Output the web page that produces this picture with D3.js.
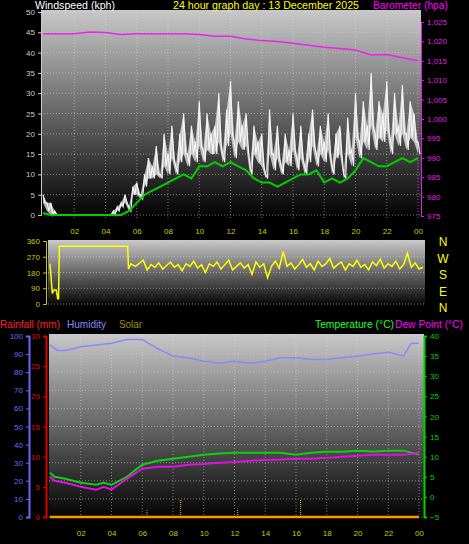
<!DOCTYPE html>
<html><head><meta charset="utf-8">
<script src="https://cdn.jsdelivr.net/npm/d3@7"></script>
<style>body{margin:0;background:#000}svg{display:block;font-family:"Liberation Sans",sans-serif}</style>
</head><body><div id="app"></div>
<script>
// wind gust every 15 min, average every 30 min (kph)
const gust = [5,3,3,1, 0,0,0,0, 0,0,0,0, 0,0,0,0, 0,0,1,2, 3,5,2,7, 8,5,10,14, 12,17,10,20, 15,22,12,20, 25,15,22,18, 28,16,25,20,
  22,30,15,26, 33,18,28,22, 25,12,22,18, 20,10,26,15, 22,12,20,16, 25,14,22,12, 20,26,15,22, 18,25,12,20, 22,10,24,16,
  30,18,28,22, 35,20,28,25, 33,18,30,22, 32,20,28,25, 18];
const gustLow = [3,1,0,0, 0,0,0,0, 0,0,0,0, 0,0,0,0, 0,0,0,1, 2,3,1,5, 5,4,7,9, 9,10,9,12, 10,14,10,13, 15,12,15,13, 17,13,16,15,
  15,18,13,17, 20,14,18,16, 17,10,15,13, 12,9,15,11, 14,10,13,12, 16,11,14,10, 13,17,12,15, 13,16,10,14, 15,9,15,12,
  19,14,18,16, 22,16,19,18, 21,15,20,17, 20,16,19,18, 15];
const avgWind = [0.5,0,0,0,0,0,0,0,0,0,0,1,3,5,6,7,8,9,10,9,12,12,13,12,13,12,11,9,8,8,7,8,9,10,10,11,8,9,8,9,11,14,13,12,12,13,14,13,14];
const baro = [1022,1022,1022,1022.4,1022.3,1021.8,1022,1022,1022,1022,1021.8,1021.3,1021.3,1020.6,1020.2,1020,1019.5,1019,1018.5,1018.2,1017.8,1016.5,1016.6,1015.8,1015];
const dirHours = [0,0.15,0.25,0.4,0.5,0.55,0.6,5.0,5.05,5.2,5.5,6,6.25,6.5,6.75,7,7.25,7.5,7.75,8,8.25,8.5,8.75,9,9.25,9.5,9.75,10,10.25,10.5,10.75,11,11.25,11.5,11.75,12,12.25,12.5,12.75,13,13.25,13.5,13.75,14,14.25,14.5,14.75,15,15.25,15.5,15.75,16,16.25,16.5,16.75,17,17.25,17.5,17.75,18,18.25,18.5,18.75,19,19.25,19.5,19.75,20,20.25,20.5,20.75,21,21.25,21.5,21.75,22,22.25,22.5,22.75,23,23.25,23.5,23.75,24];
const dirVals  = [230,60,80,80,30,30,330,330,200,230,215,250,195,225,210,235,200,220,240,210,225,190,230,215,245,205,225,180,230,215,240,200,225,250,195,215,235,205,225,170,240,210,230,150,215,245,205,300,215,235,200,225,255,210,230,195,245,215,230,260,205,225,240,195,230,215,250,210,225,195,240,220,255,205,230,215,245,200,225,290,210,235,200,210];
const hrHours = [0,0.5,1,2,3,4,5,6,7,8,9,10,11,12,13,14,15,16,17,18,19,20,21,22,23,23.5,24];
const humidity = [95,92,92,94,95,96,98,98,93,89,88,86,85,86,85,86,88,88,87,87,88,89,90,91,89,96,96];
const tHours = [0,0.3,1,2,3,3.5,4,5,6,7,8,9,10,11,12,13,14,15,16,17,18,19,20,21,22,23,24];
const temp = [6,5,4.5,3.5,3,3.5,3,5,8,9,9.5,10,10.5,10.8,11,11,11,11,10.5,11,11.2,11.2,11.5,11.3,11.5,11.5,10.5];
const dew = [5,4,3.5,2.5,1.8,2.5,1.8,4.5,7,7.5,7.5,8,8.2,8.5,8.7,9,9.2,9.3,9.5,9.5,9.7,10,10.2,10.5,10.5,10.5,11];
const solarHours = [6.3, 8.5, 12.2, 16.3];
const solarVals = [4, 10, 5, 10];
const hourTicks = [2,4,6,8,10,12,14,16,18,20,22,24];

const svg = d3.select('#app').append('svg').attr('width',469).attr('height',544);
const defs = svg.append('defs');
const grad = defs.append('linearGradient').attr('id','bg').attr('x1',0).attr('x2',0).attr('y1',0).attr('y2',1);
grad.append('stop').attr('offset','0%').attr('stop-color','#c8c8c8');
grad.append('stop').attr('offset','100%').attr('stop-color','#000');
const fmtH = h => d3.format('02')(h % 24);

function panel(x0,x1,y0,y1,yTicks,yScale){
  svg.append('rect').attr('x',x0).attr('y',y0).attr('width',x1-x0).attr('height',y1-y0).attr('fill','url(#bg)');
  const g = svg.append('g').attr('stroke','#ddd').attr('stroke-opacity',0.5).attr('stroke-dasharray','1,2');
  yTicks.forEach(t=>g.append('line').attr('x1',x0).attr('x2',x1).attr('y1',yScale(t)).attr('y2',yScale(t)));
  return g;
}
function txt(x,y,s,c,w,size){svg.append('text').attr('x',x).attr('y',y).attr('fill',c).attr('font-size',size||11)
  .attr('textLength',w).attr('lengthAdjust','spacingAndGlyphs').text(s);}

// ---- panel 1
const x1 = d3.scaleLinear().domain([0,24]).range([43,418]);
const yW = d3.scaleLinear().domain([0,50]).range([215,12]);
const yB = d3.scaleLinear().domain([975,1025]).range([216,22]);
const g1 = panel(41,421,10,220,d3.range(0,51,5),yW);
hourTicks.forEach(h=>g1.append('line').attr('x1',x1(h)).attr('x2',x1(h)).attr('y1',10).attr('y2',220));
svg.append('g').attr('transform','translate(41,0)').call(d3.axisLeft(yW).tickValues(d3.range(0,51,5)).tickSize(3))
  .call(a=>{a.select('.domain').attr('stroke','#ccc');a.selectAll('line').attr('stroke','#ccc');a.selectAll('text').attr('fill','#ccc').attr('font-size',8);});
svg.append('g').attr('transform','translate(421,0)').call(d3.axisRight(yB).tickValues(d3.range(975,1026,5)).tickSize(3))
  .call(a=>{a.select('.domain').attr('stroke','#e020e0');a.selectAll('line').attr('stroke','#e020e0');a.selectAll('text').attr('fill','#e020e0').attr('font-size',8);});
svg.append('g').attr('transform','translate(0,221)').call(d3.axisBottom(x1).tickValues(hourTicks).tickFormat(fmtH).tickSize(0))
  .call(a=>{a.select('.domain').remove();a.selectAll('text').attr('fill','#c8c800').attr('font-size',8).attr('dy',10);});
const pts = gust.map((v,i)=>[x1(i/4),yW(v),yW(gustLow[i])]);
svg.append('path').attr('d',d3.area().x(d=>d[0]).y0(d=>d[2]).y1(d=>d[1])(pts)).attr('fill','#e8e8e8').attr('fill-opacity',0.75);
svg.append('path').attr('d',d3.line()(pts.flatMap((p,i)=>[[p[0],p[1]],[p[0]+x1(0.125)-x1(0),p[2]]]))).attr('fill','none').attr('stroke','#f4f4f4').attr('stroke-width',1.2);
svg.append('path').attr('d',d3.line()(avgWind.map((v,i)=>[x1(i/2),yW(v)]))).attr('fill','none').attr('stroke','#00d000').attr('stroke-width',2);
svg.append('path').attr('d',d3.line()(baro.map((v,i)=>[x1(i),yB(v)]))).attr('fill','none').attr('stroke','#f020f0').attr('stroke-width',1.5);
txt(35,9,'Windspeed (kph)','#fff',80,11);
txt(173,9,'24 hour graph day : 13 December 2025','#ffff00',186,11);
txt(373,9,'Barometer (hpa)','#ff00ff',75,11);

// ---- panel 2
const x2 = d3.scaleLinear().domain([0,24]).range([50,423]);
const yD = d3.scaleLinear().domain([0,360]).range([304,241]);
panel(48,425,240,307,[0,90,180,270,360],yD);
svg.append('g').attr('transform','translate(46,0)').call(d3.axisLeft(yD).tickValues([0,90,180,270,360]).tickSize(3))
  .call(a=>{a.select('.domain').attr('stroke','#c8c800');a.selectAll('line').attr('stroke','#c8c800');a.selectAll('text').attr('fill','#c8c800').attr('font-size',8);});
svg.append('path').attr('d',d3.line()(dirHours.map((h,i)=>[x2(h),yD(dirVals[i])]))).attr('fill','none').attr('stroke','#ffff00').attr('stroke-width',1.5);
['N','W','S','E','N'].forEach((c,i)=>svg.append('text').attr('x',443).attr('y',246+i*16.5).attr('fill','#ffff00').attr('text-anchor','middle').attr('font-size',12).text(c));
txt(0,328,'Rainfall (mm)','#ff2020',60,11);
txt(67,328,'Humidity','#8888ff',39,11);
txt(119,328,'Solar','#a09000',23,11);
txt(315,328,'Temperature (°C)','#20ff20',79,11);
txt(395,328,'Dew Point (°C)','#ff00ff',68,11);

// ---- panel 3
const x3 = d3.scaleLinear().domain([0,24]).range([50,419]);
const yH = d3.scaleLinear().domain([0,100]).range([517,336]);
const yR = d3.scaleLinear().domain([0,30]).range([517,336]);
const yT = d3.scaleLinear().domain([-5,40]).range([517,336]);
const g3 = panel(49,424,334,520,d3.range(0,101,10),yH);
hourTicks.forEach(h=>g3.append('line').attr('x1',x3(h)).attr('x2',x3(h)).attr('y1',334).attr('y2',520));
function ax(t,sel,col){svg.append('g').attr('transform',t).call(sel)
  .call(a=>{a.select('.domain').attr('stroke',col).attr('stroke-width',2);a.selectAll('line').attr('stroke',col);a.selectAll('text').attr('fill',col).attr('font-size',8);});}
ax('translate(29,0)',d3.axisLeft(yH).tickValues(d3.range(0,101,10)).tickSize(3),'#6868ff');
ax('translate(46,0)',d3.axisLeft(yR).tickValues(d3.range(0,31,5)).tickSize(3),'#e00000');
ax('translate(424,0)',d3.axisRight(yT).tickValues(d3.range(-5,41,5)).tickSize(3),'#00d000');
svg.append('g').attr('transform','translate(0,523)').call(d3.axisBottom(x3).tickValues(hourTicks).tickFormat(fmtH).tickSize(0))
  .call(a=>{a.select('.domain').remove();a.selectAll('text').attr('fill','#c8c800').attr('font-size',8).attr('dy',10);});
svg.append('path').attr('d',d3.line()(hrHours.map((h,i)=>[x3(h),yH(humidity[i])]))).attr('fill','none').attr('stroke','#8888ff').attr('stroke-width',1.5);
svg.append('path').attr('d',d3.line()(tHours.map((h,i)=>[x3(h),yT(temp[i])]))).attr('fill','none').attr('stroke','#10d010').attr('stroke-width',2);
svg.append('path').attr('d',d3.line()(tHours.map((h,i)=>[x3(h),yT(dew[i])]))).attr('fill','none').attr('stroke','#e010e0').attr('stroke-width',2);
solarHours.forEach((h,i)=>svg.append('line').attr('x1',x3(h)).attr('x2',x3(h)).attr('y1',yR(0)).attr('y2',yR(0)-solarVals[i]*1.7).attr('stroke','#d0c000').attr('stroke-dasharray','1,1'));
svg.append('line').attr('x1',x3(0)).attr('x2',x3(24)).attr('y1',yR(0)).attr('y2',yR(0)).attr('stroke','#ff9900').attr('stroke-width',2.5);
</script></body></html>
